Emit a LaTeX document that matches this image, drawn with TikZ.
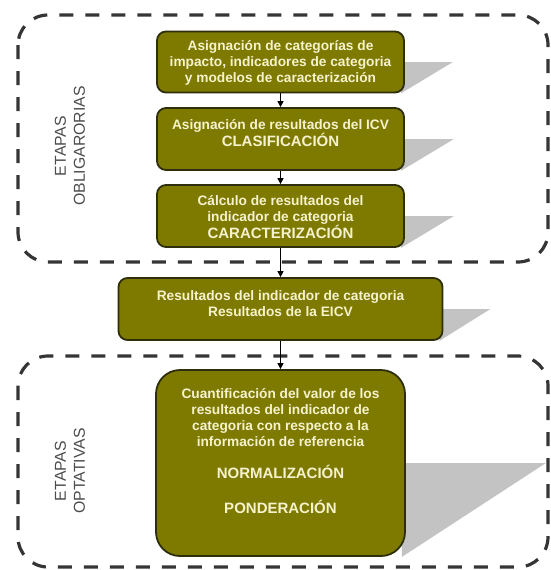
\documentclass[tikz,border=0pt]{standalone}
\usepackage{fontspec}
\setmainfont{Liberation Sans}
\usetikzlibrary{arrows.meta,backgrounds}

\definecolor{stepfill}{HTML}{7E7A00}
\definecolor{stepedge}{HTML}{2E2E0A}
\definecolor{steptext}{HTML}{F6F2CE}
\definecolor{shadowgray}{HTML}{C3C3C3}
\definecolor{framegray}{HTML}{353535}
\definecolor{labelgray}{HTML}{4C4C4C}

\tikzset{
  stepbox/.style={draw=stepedge, line width=1.8pt, fill=stepfill,
    rounded corners=9pt, inner sep=0pt},
  steplabel/.style={text=steptext, align=center, inner sep=0pt,
    font=\fontsize{13.7}{16}\selectfont\bfseries},
  frame/.style={draw=framegray, line width=3.2pt, rounded corners=30pt,
    dash pattern=on 14pt off 12pt},
  stagelabel/.style={text=labelgray, align=center, rotate=90, inner sep=0pt,
    font=\fontsize{15.8}{19}\selectfont},
  conn/.style={draw=black, line width=1.1pt,
    -{Triangle[length=6pt,width=6pt]}},
  dropshadow/.style={fill=shadowgray, draw=none}
}

% grey drop shadow to the right of a box: from mid-height out, back to the lower corner
\newcommand{\stepshadow}[2]{%
  \fill[dropshadow] (#1.north east |- #1.center) -- ++(#2,0) --
    ([xshift=-4pt]#1.south east) -- ([xshift=-4pt]#1.north east |- #1.center) -- cycle;}
\newcommand{\bigword}[1]{{\fontsize{15}{17}\selectfont #1}}

\begin{document}
\begin{tikzpicture}[x=1pt,y=-1pt]
\useasboundingbox (0,0) rectangle (550,570);

% stage frames
\draw[frame] (18,15) rectangle (548,262);
\draw[frame] (18,356) rectangle (548,567);

% stage captions
\node[stagelabel] (obl) at (70,146) {ETAPAS\\OBLIGARORIAS};
\node[stagelabel] (opt) at (70,471) {ETAPAS\\OPTATIVAS};

% process boxes
\node[stepbox, minimum width=247pt, minimum height=61pt] (b1) at (280.5,62) {};
\node[stepbox, minimum width=247pt, minimum height=62pt] (b2) at (280.5,139) {};
\node[stepbox, minimum width=247pt, minimum height=62pt] (b3) at (280.5,216) {};
\node[stepbox, minimum width=324pt, minimum height=62pt] (b4) at (280.5,309) {};
\node[stepbox, rounded corners=24pt, minimum width=249pt, minimum height=186pt] (b5) at (280.5,463) {};

% shadows behind the boxes
\begin{scope}[on background layer]
  \stepshadow{b1}{48}
  \stepshadow{b2}{49}
  \stepshadow{b3}{49}
  \stepshadow{b4}{47}
  \stepshadow{b5}{140}
\end{scope}

% box texts
\node[steplabel] (t1) at ([yshift=-1pt]b1.center)
  {Asignación de categorías de\\impacto, indicadores de categoria\\y modelos de caracterización};
\node[steplabel] (t2) at ([yshift=6pt]b2.center)
  {Asignación de resultados del ICV\\\bigword{CLASIFICACIÓN}};
\node[steplabel] (t3) at ([yshift=-1pt]b3.center)
  {Cálculo de resultados del\\indicador de categoria\\\bigword{CARACTERIZACIÓN}};
\node[steplabel] (t4) at ([yshift=5pt]b4.center)
  {Resultados del indicador de categoria\\Resultados de la EICV};
\node[steplabel] (t5) at ([yshift=12pt]b5.center)
  {Cuantificación del valor de los\\resultados del indicador de\\categoria con respecto a la\\información de referencia\\[16pt]
   \bigword{NORMALIZACIÓN}\\[19pt]
   \bigword{PONDERACIÓN}};

% connectors
\draw[conn] (b1.south) -- (b2.north);
\draw[conn] (b2.south) -- (b3.north);
\draw[conn] (b3.south) -- (b4.north);
\draw[conn] (b4.south) -- (b5.north);
\end{tikzpicture}
\end{document}
